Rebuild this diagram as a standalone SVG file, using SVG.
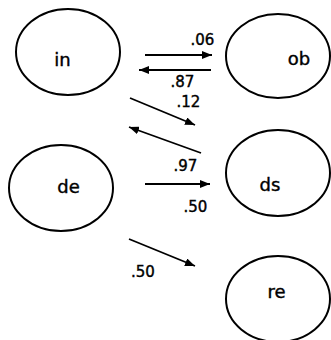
<svg xmlns="http://www.w3.org/2000/svg" width="331" height="340" viewBox="0 0 331 340">
<style>
.n{fill:none;stroke:#000;stroke-width:2}
.t{font-family:"DejaVu Sans",sans-serif;fill:#000;stroke:#000;stroke-width:0.4;text-anchor:middle}
.nt{font-size:18px}
.lt{font-size:15px}
.c line{stroke:#000;stroke-width:1.8;marker-end:url(#ah)}
</style>
<defs>
<marker id="ah" viewBox="0 0 10 8" refX="10" refY="4" markerWidth="10" markerHeight="8" markerUnits="userSpaceOnUse" orient="auto">
<path d="M0,0 L10,4 L0,8 Z" fill="#000"/>
</marker>
</defs>
<rect width="331" height="340" fill="#fff"/>
<g id="in"><ellipse class="n" cx="68" cy="52" rx="52" ry="43"/><text class="t nt" x="62.5" y="66">in</text></g>
<g id="ob"><ellipse class="n" cx="278" cy="56" rx="52" ry="42"/><text class="t nt" x="299" y="65">ob</text></g>
<g id="de"><ellipse class="n" cx="61" cy="188" rx="52" ry="43"/><text class="t nt" x="68.5" y="193">de</text></g>
<g id="ds"><ellipse class="n" cx="278" cy="173" rx="52" ry="43"/><text class="t nt" x="270" y="191">ds</text></g>
<g id="re"><ellipse class="n" cx="278" cy="299" rx="52" ry="43"/><text class="t nt" x="276.5" y="298">re</text></g>
<g class="c">
<line x1="145" y1="55" x2="212" y2="55"/>
<line x1="211" y1="70" x2="139" y2="70"/>
<line x1="130" y1="98" x2="195" y2="125"/>
<line x1="201" y1="153" x2="129" y2="127"/>
<line x1="145" y1="184" x2="210" y2="184"/>
<line x1="129" y1="239" x2="195" y2="266"/>
</g>
<g id="labels">
<text class="t lt" x="202.5" y="45">.06</text>
<text class="t lt" x="182.5" y="87">.87</text>
<text class="t lt" x="188.5" y="107">.12</text>
<text class="t lt" x="185.5" y="171">.97</text>
<text class="t lt" x="195.5" y="212">.50</text>
<text class="t lt" x="143" y="277">.50</text>
</g>
</svg>
